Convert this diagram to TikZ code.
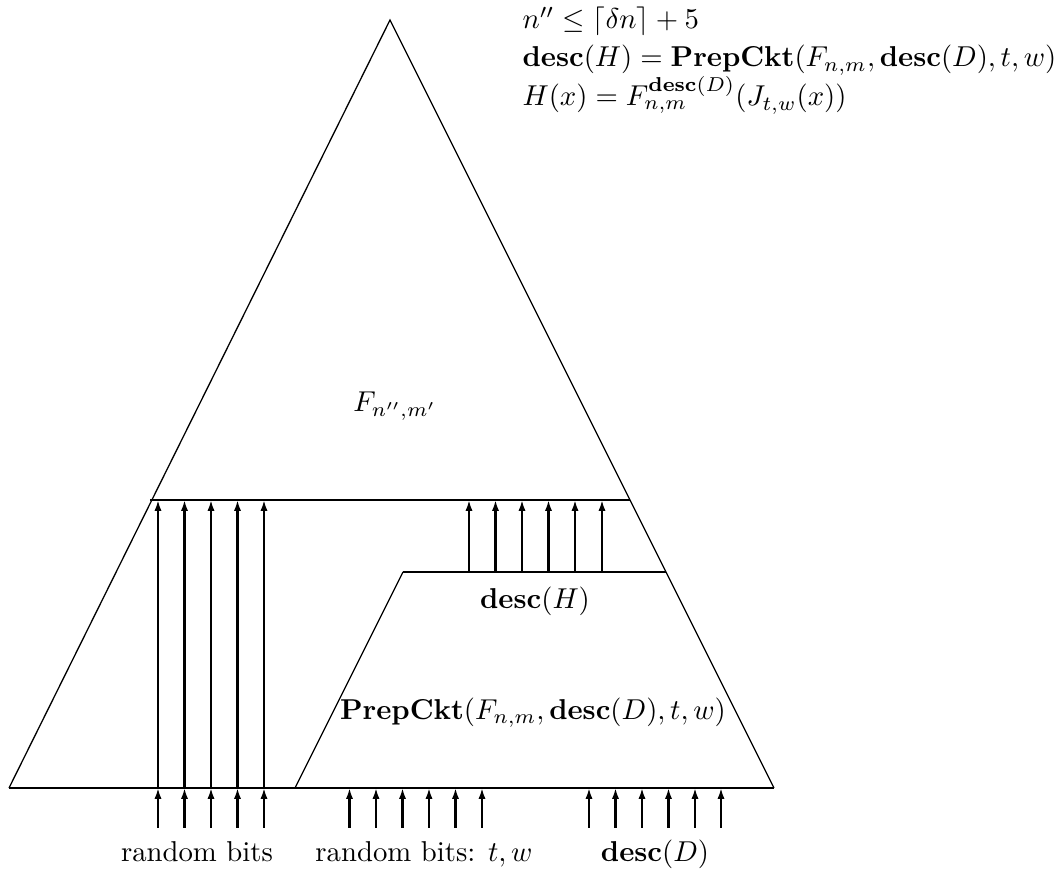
\documentclass[tikz,border=0pt]{standalone}
\usetikzlibrary{arrows.meta}
\begin{document}
\begin{tikzpicture}[x=0.348pt,y=-0.348pt,
  edge/.style={line width=0.45pt},
  hline/.style={line width=0.65pt},
  arr/.style={line width=0.7pt,-{Latex[length=3.8pt,width=2.5pt]}},
  lbl/.style={inner sep=0pt}]
\useasboundingbox (0,0) rectangle (1061,877);
% main triangle
\coordinate (apex) at (390,20);
\coordinate (bl) at (9,788);
\coordinate (br) at (774,788);
\coordinate (ml) at (150,500);
\coordinate (mr) at (630,500);
\coordinate (tl) at (403,572);
\coordinate (tr) at (666,572);
\coordinate (pl) at (295,788);
\draw[edge] (bl) -- (apex) -- (br);
\draw[hline] (bl) -- (br);
\draw[hline] (ml) -- (mr);
\draw[hline] (tl) -- (tr);
\draw[edge] (pl) -- (tl);
% left group of arrows
\foreach \x [count=\i] in {158,184.5,211,237.5,264}{
  \coordinate (lb\i) at (\x,828);
  \coordinate (lm\i) at (\x,788);
  \coordinate (lt\i) at (\x,500);
  \draw[arr] (lb\i) -- (lm\i);
  \draw[arr] (lm\i) -- (lt\i);
}
% middle group
\foreach \x [count=\i] in {349.5,376,402.5,429,455.5,482}{
  \coordinate (mb\i) at (\x,828);
  \coordinate (mm\i) at (\x,788);
  \draw[arr] (mb\i) -- (mm\i);
}
% right group
\foreach \x [count=\i] in {589,615.5,642,668.5,695,721}{
  \coordinate (rb\i) at (\x,828);
  \coordinate (rm\i) at (\x,788);
  \draw[arr] (rb\i) -- (rm\i);
}
% upper group
\foreach \x [count=\i] in {469,495.5,522,548.5,575,602}{
  \coordinate (ub\i) at (\x,572);
  \coordinate (ut\i) at (\x,500);
  \draw[arr] (ub\i) -- (ut\i);
}
% labels
\node[lbl] (F) at (395,406) {$F_{n'',m'}$};
\node[lbl] (dH) at (535,601) {$\mathbf{desc}(H)$};
\node[lbl] (pc) at (533,713) {$\mathbf{PrepCkt}(F_{n,m},\mathbf{desc}(D),t,w)$};
\node[lbl,anchor=base] (rb) at (197,862) {random bits};
\node[lbl,anchor=base] (rtw) at (424,862) {random bits: $t,w$};
\node[lbl,anchor=base] (dD) at (655,862) {$\mathbf{desc}(D)$};
\node[lbl,anchor=base west] (c1) at (522,29) {$n''\leq\lceil\delta n\rceil+5$};
\node[lbl,anchor=base west] (c2) at (522,67) {$\mathbf{desc}(H)=\mathbf{PrepCkt}(F_{n,m},\mathbf{desc}(D),t,w)$};
\node[lbl,anchor=base west] (c3) at (522,106) {$H(x)=F_{n,m}^{\mathbf{desc}(D)}(J_{t,w}(x))$};
\end{tikzpicture}
\end{document}
